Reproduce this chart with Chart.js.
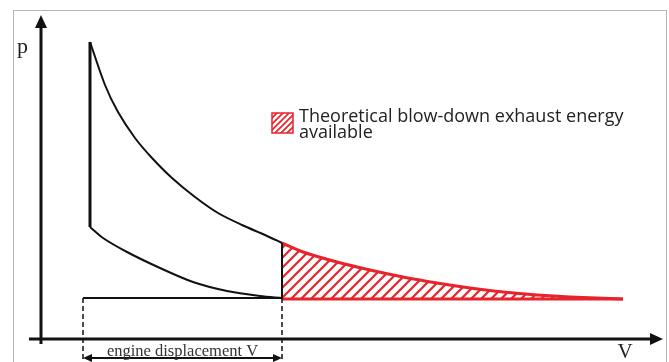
<!DOCTYPE html>
<html>
<head>
<meta charset="utf-8">
<script src="https://cdn.jsdelivr.net/npm/chart.js@4"></script>
<style>
  html, body { margin: 0; padding: 0; background: #fff; }
  #wrap { position: relative; width: 669px; height: 362px; overflow: hidden; }
  #frame { position: absolute; left: 13px; top: 10px; width: 652px; height: 370px; border: 1px solid #b4b4b4; pointer-events: none; }
</style>
</head>
<body>
<div id="wrap">
  <canvas id="pv"></canvas>
  <div id="frame"></div>
</div>
<script>
// p-V diagram in arbitrary units: V measured from the p axis, p from the V axis
const V_CLEAR = 4.2;
const V_TDC = 4.9;
const V_BDC = 24.1;
const P_BASE = 4.1;
const P_RED_BASE = 4.0;

const expansionV = [4.9, 6.4, 7.7, 9.4, 11.1, 13.1, 15.4, 17.7, 20.1, 22.4, 24.1];
const expansionP = [29.7, 25.4, 22.7, 20.1, 18.1, 16.1, 14.2, 12.6, 11.4, 10.4, 9.6];

const compressionV = [4.9, 6.2, 8.6, 11.9, 15.2, 18.6, 21.9, 24.1];
const compressionP = [11.2, 10.1, 8.7, 7.1, 5.7, 4.8, 4.3, 4.1];

const blowdownV = [24.1, 26.2, 29.6, 32.9, 36.2, 39.6, 42.9, 46.2, 49.6, 52.9, 58.2];
const blowdownP = [9.6, 8.7, 7.7, 6.9, 6.2, 5.6, 5.1, 4.7, 4.4, 4.2, 4.0];

const legendLines = ['Theoretical blow-down exhaust energy', 'available'];
const dimensionLabel = 'engine displacement V';

const RED = '#e8232b';
const INK = '#111';

const pts = (vs, ps) => vs.map((v, i) => ({ x: v, y: ps[i] }));

function hatch(size, width) {
  const c = document.createElement('canvas');
  c.width = size; c.height = size;
  const g = c.getContext('2d');
  g.strokeStyle = RED;
  g.lineWidth = width;
  g.beginPath();
  g.moveTo(-size / 2, size / 2); g.lineTo(size / 2, -size / 2);
  g.moveTo(0, size); g.lineTo(size, 0);
  g.moveTo(size / 2, size * 1.5); g.lineTo(size * 1.5, size / 2);
  g.stroke();
  return g.createPattern(c, 'repeat');
}

function arrowHead(ctx, x, y, dx, dy, len, half) {
  const nx = -dy, ny = dx;
  ctx.beginPath();
  ctx.moveTo(x, y);
  ctx.lineTo(x - dx * len + nx * half, y - dy * len + ny * half);
  ctx.lineTo(x - dx * len - nx * half, y - dy * len - ny * half);
  ctx.closePath();
  ctx.fill();
}

const overlay = {
  id: 'overlay',
  afterDatasetsDraw(chart) {
    const ctx = chart.ctx;
    const X = v => chart.scales.x.getPixelForValue(v);
    const Y = p => chart.scales.y.getPixelForValue(p);
    ctx.save();
    ctx.strokeStyle = INK;
    ctx.fillStyle = INK;

    // axes
    ctx.lineWidth = 3;
    ctx.beginPath();
    ctx.moveTo(X(0), Y(-0.5)); ctx.lineTo(X(0), Y(31.5));
    ctx.moveTo(X(-1.2), Y(0)); ctx.lineTo(X(61.4), Y(0));
    ctx.stroke();
    arrowHead(ctx, X(0), Y(32.4), 0, -1, 13, 6);
    arrowHead(ctx, X(62.2), Y(0), 1, 0, 13, 6);

    // displacement dimension arrow
    const ya = Y(-1.9);
    ctx.lineWidth = 2;
    ctx.beginPath();
    ctx.moveTo(X(V_CLEAR) + 6, ya); ctx.lineTo(X(V_BDC) - 6, ya);
    ctx.stroke();
    arrowHead(ctx, X(V_CLEAR), ya, -1, 0, 9, 4);
    arrowHead(ctx, X(V_BDC), ya, 1, 0, 9, 4);

    // axis letters
    ctx.fillStyle = '#222';
    ctx.font = '22px "Liberation Serif", serif';
    ctx.textAlign = 'left';
    ctx.textBaseline = 'alphabetic';
    ctx.fillText('p', X(-2.4), Y(28.6));
    ctx.font = '21px "Liberation Serif", serif';
    ctx.textAlign = 'center';
    ctx.fillText('V', X(58.4), Y(-1.9));

    ctx.font = '16.5px "Liberation Serif", serif';
    ctx.fillStyle = '#333';
    ctx.fillText(dimensionLabel, (X(V_CLEAR) + X(V_BDC)) / 2, Y(-1.65));

    // legend
    const sx = X(23.1), sy = Y(22.6), sw = X(25.2) - sx, sh = Y(20.6) - sy;
    ctx.fillStyle = '#fff';
    ctx.fillRect(sx, sy, sw, sh);
    ctx.fillStyle = hatch(6, 1.7);
    ctx.fillRect(sx, sy, sw, sh);
    ctx.strokeStyle = RED;
    ctx.lineWidth = 1.5;
    ctx.strokeRect(sx, sy, sw, sh);

    ctx.fillStyle = '#222';
    ctx.textAlign = 'left';
    ctx.font = '18px "Open Sans", sans-serif';
    ctx.fillText(legendLines[0], X(25.8), Y(21.75));
    ctx.fillText(legendLines[1], X(25.8), Y(20.15));
    ctx.restore();
  }
};

const seg = (data, extra) => Object.assign({
  data, showLine: true, borderColor: INK, borderWidth: 2,
  pointRadius: 0, fill: false, clip: false, tension: 0
}, extra);

new Chart(document.getElementById('pv'), {
  type: 'scatter',
  data: {
    datasets: [
      seg(pts(expansionV, expansionP), { tension: 0.3, order: 1 }),
      seg(pts(compressionV, compressionP), { tension: 0.3, order: 1 }),
      seg([{ x: V_TDC, y: expansionP[0] }, { x: V_TDC, y: compressionP[0] }], { borderWidth: 3, order: 1 }),
      seg([{ x: V_BDC, y: expansionP[expansionP.length - 1] }, { x: V_BDC, y: P_BASE }], { order: 0 }),
      seg([{ x: V_CLEAR, y: P_BASE }, { x: V_BDC, y: P_BASE }], { order: 1 }),
      seg([{ x: V_CLEAR, y: P_BASE }, { x: V_CLEAR, y: -2.4 }], { borderWidth: 1.5, borderDash: [5, 3], order: 1 }),
      seg([{ x: V_BDC, y: P_BASE }, { x: V_BDC, y: -2.4 }], { borderWidth: 1.5, borderDash: [5, 3], order: 1 }),
      seg(pts(blowdownV, blowdownP), {
        tension: 0.3, borderColor: RED, borderWidth: 3,
        fill: { value: P_RED_BASE }, backgroundColor: hatch(10, 2.2), order: 3
      }),
      seg([{ x: V_BDC, y: P_RED_BASE }, { x: blowdownV[blowdownV.length - 1], y: P_RED_BASE }],
        { borderColor: RED, borderWidth: 3, order: 2 })
    ]
  },
  options: {
    responsive: true,
    maintainAspectRatio: false,
    animation: false,
    layout: { padding: 0 },
    plugins: { legend: { display: false }, tooltip: { enabled: false } },
    scales: {
      x: { type: 'linear', display: false, min: -4.1, max: 62.8 },
      y: { type: 'linear', display: false, min: -2.3, max: 33.9 }
    }
  },
  plugins: [overlay]
});
</script>
</body>
</html>
